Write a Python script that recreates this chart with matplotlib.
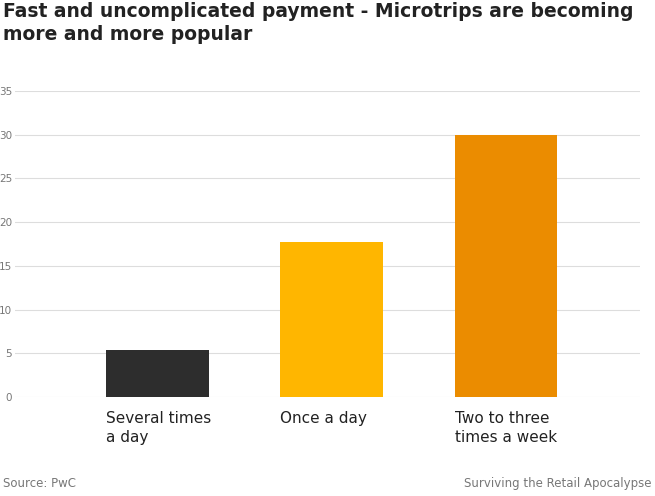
import matplotlib
matplotlib.use("Agg")
import matplotlib.pyplot as plt

categories = ["Several times\na day", "Once a day", "Two to three\ntimes a week"]
values = [5.4, 17.7, 30.0]
colors = ["#2d2d2d", "#ffb600", "#eb8c00"]
yticks = [0, 5, 10, 15, 20, 25, 30, 35]

fig = plt.figure(figsize=(6.55, 4.96), dpi=100)
ax = fig.add_axes([15/655, 99/496, 625/655, 306/496])
xs = list(range(len(categories)))
ax.bar(xs, values, width=0.59, color=colors, zorder=3)
ax.set_xlim(-0.82, 2.77)
ax.set_ylim(0, 35)
ax.set_yticks(yticks)
ax.set_yticklabels([str(t) for t in yticks], fontsize=7.5, color="#777777")
ax.tick_params(axis="y", length=0, pad=2)
ax.set_xticks([])
ax.grid(axis="y", color="#dddddd", linewidth=0.8, zorder=0)
for s in ax.spines.values():
    s.set_visible(False)
for x, c in zip(xs, categories):
    ax.text(x - 0.295, -1.6, c, ha="left", va="top", fontsize=11, color="#222222", linespacing=1.3)

fig.text(0.005, 0.995, "Fast and uncomplicated payment - Microtrips are becoming\nmore and more popular",
         ha="left", va="top", fontsize=13.5, fontweight="bold", color="#222222", linespacing=1.25)
fig.text(0.005, 0.012, "Source: PwC", ha="left", va="bottom", fontsize=8.5, color="#777777")
fig.text(0.995, 0.012, "Surviving the Retail Apocalypse", ha="right", va="bottom", fontsize=8.5, color="#777777")
fig.savefig("out.png", dpi=100)
